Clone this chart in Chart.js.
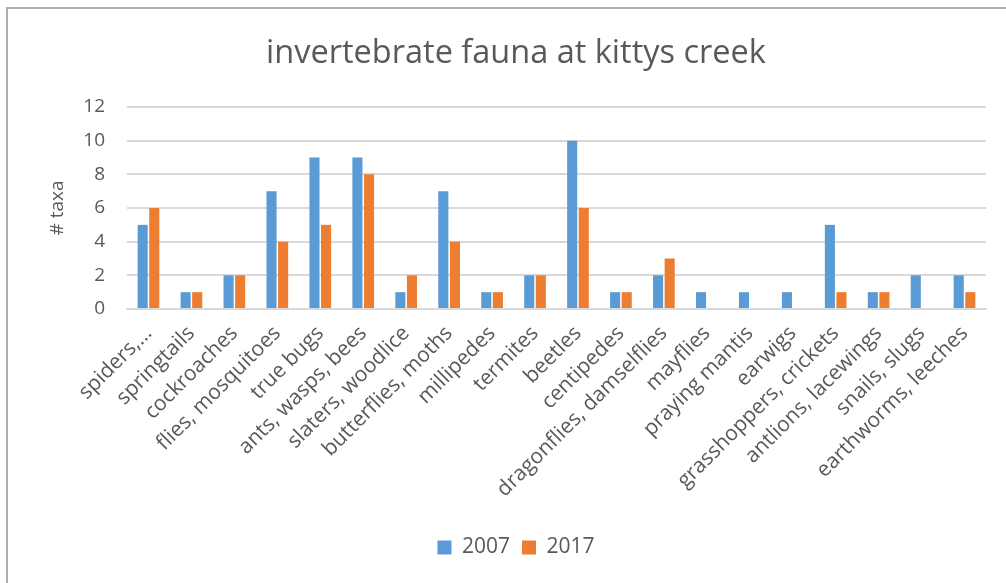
<!DOCTYPE html>
<html>
<head>
<meta charset="utf-8">
<title>invertebrate fauna at kittys creek</title>
<script src="https://cdn.jsdelivr.net/npm/chart.js@4.4.1/dist/chart.umd.min.js"></script>
<style>
  html, body { margin: 0; padding: 0; background: #fff; }
  .wrap { position: relative; width: 1006px; height: 583px; overflow: hidden; }
  .frame { position: absolute; left: 6px; top: 7px; width: 1100px; height: 700px;
           border-left: 2px solid #adadad; border-top: 2px solid #adadad; }
  canvas { position: absolute; left: 0; top: 0; }
</style>
</head>
<body>
<div class="wrap">
  <div class="frame"></div>
  <canvas id="fauna" width="1006" height="583"></canvas>
</div>
<script>
// taxa counts per invertebrate group, survey years 2007 and 2017
const groups = [
  'spiders,…', 'springtails', 'cockroaches', 'flies, mosquitoes', 'true bugs',
  'ants, wasps, bees', 'slaters, woodlice', 'butterflies, moths', 'millipedes', 'termites',
  'beetles', 'centipedes', 'dragonflies, damselflies', 'mayflies', 'praying mantis',
  'earwigs', 'grasshoppers, crickets', 'antlions, lacewings', 'snails, slugs', 'earthworms, leeches'
];
const taxa2007 = [5, 1, 2, 7, 9, 9, 1, 7, 1, 2, 10, 1, 2, 1, 1, 1, 5, 1, 2, 2];
const taxa2017 = [6, 1, 2, 4, 5, 8, 2, 4, 1, 2, 6, 1, 3, 0, 0, 0, 1, 1, 0, 1];
const yTicks = [0, 2, 4, 6, 8, 10, 12];

const textColor = '#595959';
const gridColor = '#d9d9d9';
const fontFamily = '"Open Sans", Lato, sans-serif';

document.addEventListener('DOMContentLoaded', () => {
  const ctx = document.getElementById('fauna');
  new Chart(ctx, {
    type: 'bar',
    data: {
      labels: groups,
      datasets: [
        { label: '2007', data: taxa2007, backgroundColor: '#5b9bd5',
          barPercentage: 0.87, categoryPercentage: 0.54 },
        { label: '2017', data: taxa2017, backgroundColor: '#ed7d31',
          barPercentage: 0.87, categoryPercentage: 0.54 }
      ]
    },
    options: {
      responsive: false,
      animation: false,
      layout: { padding: { left: 46, right: 20, top: 8, bottom: 15 } },
      plugins: {
        title: {
          display: true,
          text: 'invertebrate fauna at kittys creek',
          color: textColor,
          font: { family: fontFamily, size: 32.5, weight: 'normal' },
          padding: { top: 26, bottom: 34 }
        },
        legend: {
          position: 'bottom',
          labels: {
            color: textColor,
            font: { family: fontFamily, size: 21 },
            boxWidth: 14, boxHeight: 14, padding: 12
          }
        },
        tooltip: { enabled: false }
      },
      scales: {
        x: {
          grid: { display: false },
          border: { color: gridColor, width: 2 },
          ticks: {
            color: textColor,
            font: { family: fontFamily, size: 21 },
            minRotation: 45, maxRotation: 45, autoSkip: false, padding: 4
          },
          afterFit: scale => { scale.height = 216; }
        },
        y: {
          min: 0, max: 12,
          afterBuildTicks: scale => { scale.ticks = yTicks.map(v => ({ value: v })); },
          grid: { color: gridColor, lineWidth: 2, drawTicks: false },
          border: { display: false },
          ticks: {
            color: textColor,
            font: { family: fontFamily, size: 19 },
            padding: 22
          },
          title: {
            display: true,
            text: '# taxa',
            color: textColor,
            font: { family: fontFamily, size: 19 },
            padding: 0
          },
          afterFit: scale => { scale.width = 81; }
        }
      }
    }
  });
});
</script>
</body>
</html>
